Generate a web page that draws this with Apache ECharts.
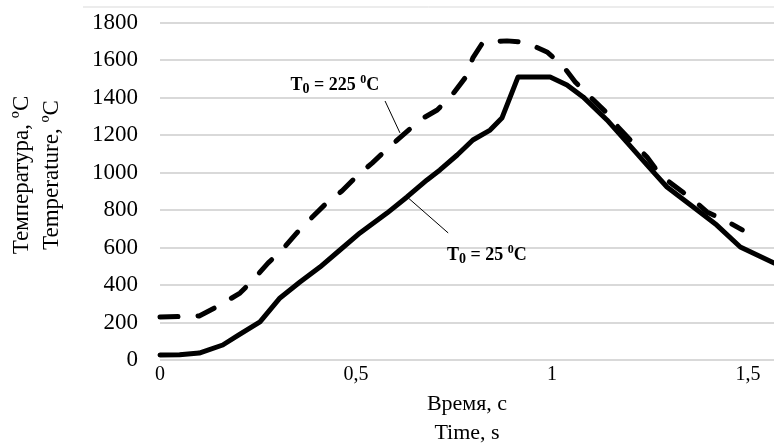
<!DOCTYPE html>
<html>
<head>
<meta charset="utf-8">
<script src="https://cdn.jsdelivr.net/npm/echarts@6/dist/echarts.min.js"></script>
<style>
  html, body { margin: 0; padding: 0; background: #fff; }
  #chart { width: 774px; height: 445px; }
</style>
</head>
<body>
<div id="chart"></div>
<script>
// T0 = 25 C (solid)
const timeCold = [0, 0.05, 0.10, 0.16, 0.20, 0.255, 0.306, 0.357, 0.408, 0.459, 0.51, 0.579, 0.63, 0.681, 0.714, 0.758, 0.798, 0.842, 0.872, 0.913, 0.995, 1.038, 1.079, 1.14, 1.19, 1.242, 1.293, 1.36, 1.42, 1.48, 1.566]
const tempCold = [27, 28, 37, 80, 133, 203, 331, 416, 496, 587, 678, 784, 870, 961, 1014, 1094, 1174, 1227, 1291, 1510, 1510, 1468, 1404, 1281, 1164, 1041, 923, 817, 720, 603, 518]
// T0 = 225 C (dashed)
const timeHot = [0, 0.10, 0.153, 0.204, 0.237, 0.276, 0.311, 0.349, 0.383, 0.426, 0.464, 0.505, 0.541, 0.582, 0.62, 0.663, 0.707, 0.747, 0.778, 0.798, 0.824, 0.885, 0.918, 0.936, 0.987, 1.026, 1.059, 1.097, 1.14, 1.168, 1.207, 1.242, 1.276, 1.309, 1.36, 1.395, 1.454, 1.485]
const tempHot = [229, 235, 293, 357, 427, 518, 587, 678, 752, 840, 902, 987, 1051, 1131, 1201, 1281, 1334, 1420, 1505, 1612, 1697, 1703, 1697, 1692, 1644, 1574, 1484, 1404, 1318, 1244, 1158, 1083, 987, 934, 854, 790, 731, 694]
const xTicks = [0, 0.5, 1, 1.5]

// annotation anchors in data units: label point, leader start, leader end
const noteHot = {text: '225', at: [0.446, 1468], from: [0.574, 1382], to: [0.612, 1212]}
const noteCold = {text: '25', at: [0.732, 560], from: [0.633, 865], to: [0.735, 678]}

const serif = '"Liberation Serif", "Times New Roman", serif'
const zip = (xs, ys) => xs.map((x, i) => [x, ys[i]])

const chart = echarts.init(document.getElementById('chart'))
const option = {
  backgroundColor: '#fff',
  animation: false,
  grid: {left: 160, right: 0, top: 22.7, bottom: 85, outerBoundsMode: 'none', containLabel: false},
  xAxis: {
    type: 'value',
    min: 0,
    max: 1.566,
    interval: 0.5,
    name: 'Время, с\nTime, s',
    nameLocation: 'middle',
    nameGap: 28,
    nameTextStyle: {fontFamily: serif, fontSize: 22, color: '#000', lineHeight: 29, verticalAlign: 'top'},
    axisLine: {show: false},
    axisTick: {show: false},
    splitLine: {show: false},
    axisLabel: {
      fontFamily: serif, fontSize: 20, color: '#000', margin: 5,
      formatter: v => xTicks.some(t => Math.abs(t - v) < 1e-6) ? String(v).replace('.', ',') : ''
    }
  },
  yAxis: {
    type: 'value',
    min: 0,
    max: 1800,
    interval: 200,
    axisLine: {show: false},
    axisTick: {show: false},
    splitLine: {lineStyle: {color: '#d9d9d9', width: 2}},
    axisLabel: {fontFamily: serif, fontSize: 23, color: '#000', margin: 22, formatter: v => String(v)}
  },
  series: [
    {
      name: 'T0 = 225',
      type: 'line',
      showSymbol: false,
      data: zip(timeHot, tempHot),
      lineStyle: {color: '#000', width: 5, type: [18, 20], cap: 'round', join: 'round'}
    },
    {
      name: 'T0 = 25',
      type: 'line',
      showSymbol: false,
      data: zip(timeCold, tempCold),
      lineStyle: {color: '#000', width: 5, cap: 'round', join: 'round'}
    }
  ]
}
chart.setOption(option)

function noteGraphics(note, align) {
  const p = chart.convertToPixel({gridIndex: 0}, note.at)
  const a = chart.convertToPixel({gridIndex: 0}, note.from)
  const b = chart.convertToPixel({gridIndex: 0}, note.to)
  return [
    {
      type: 'line',
      shape: {x1: a[0], y1: a[1], x2: b[0], y2: b[1]},
      style: {stroke: '#000', lineWidth: 1}
    },
    {
      type: 'text',
      x: p[0],
      y: p[1],
      style: {
        text: 'T{sub|0} = ' + note.text + ' {sup|0}C',
        font: 'bold 18px ' + serif,
        fill: '#000',
        align: align,
        verticalAlign: 'middle',
        lineHeight: 22,
        rich: {
          sub: {fontSize: 14, fontWeight: 'bold', fontFamily: serif, lineHeight: 17, verticalAlign: 'bottom'},
          sup: {fontSize: 12, fontWeight: 'bold', fontFamily: serif, lineHeight: 12, verticalAlign: 'top'}
        }
      }
    }
  ]
}

chart.setOption({
  graphic: [
    // outer frame top edge
    {type: 'line', shape: {x1: 83, y1: 7, x2: 774, y2: 7}, style: {stroke: '#d9d9d9', lineWidth: 1}},
    {
      type: 'text',
      x: 37,
      y: 175,
      rotation: Math.PI / 2,
      style: {
        text: 'Температура, ºC\nTemperature, ºC',
        font: '23px ' + serif,
        fill: '#000',
        align: 'center',
        verticalAlign: 'middle',
        lineHeight: 30
      }
    },
    ...noteGraphics(noteHot, 'center'),
    ...noteGraphics(noteCold, 'left')
  ]
})
</script>
</body>
</html>
